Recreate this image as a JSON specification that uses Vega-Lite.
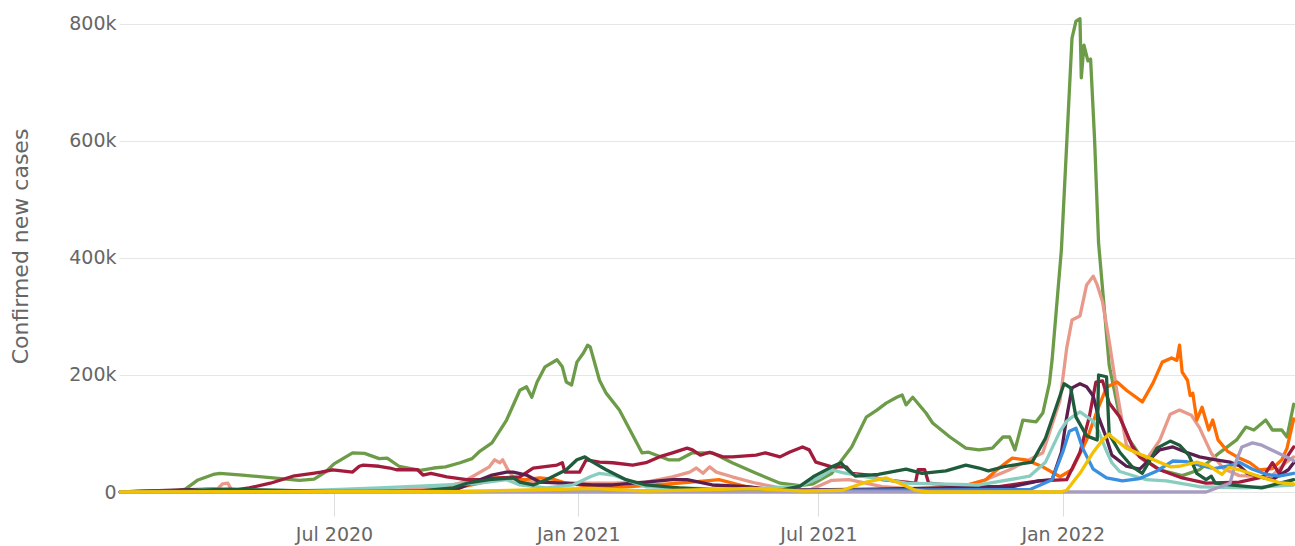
{
"$schema": "https://vega.github.io/schema/vega-lite/v6.json",
"width": 1176, "height": 492,
"autosize": {"type": "none"},
"padding": {"left": 119, "top": 0, "right": 0, "bottom": 54},
"background": "white",
"config": {"view": {"stroke": null}, "font": "DejaVu Sans"},
"data": {"values": [
{"c":"United States","d":"2020-01-22","v":0},{"c":"United States","d":"2020-03-01","v":0},{"c":"United States","d":"2020-03-11","v":5000},{"c":"United States","d":"2020-03-20","v":20000},{"c":"United States","d":"2020-04-01","v":30000},{"c":"United States","d":"2020-04-06","v":32000},{"c":"United States","d":"2020-04-23","v":29000},{"c":"United States","d":"2020-05-16","v":24000},{"c":"United States","d":"2020-06-05","v":20000},{"c":"United States","d":"2020-06-16","v":22000},{"c":"United States","d":"2020-06-25","v":35000},{"c":"United States","d":"2020-07-01","v":48000},{"c":"United States","d":"2020-07-15","v":67000},{"c":"United States","d":"2020-07-24","v":66000},{"c":"United States","d":"2020-08-04","v":57000},{"c":"United States","d":"2020-08-10","v":58000},{"c":"United States","d":"2020-08-19","v":44000},{"c":"United States","d":"2020-09-04","v":37000},{"c":"United States","d":"2020-09-14","v":41000},{"c":"United States","d":"2020-09-23","v":43000},{"c":"United States","d":"2020-10-04","v":50000},{"c":"United States","d":"2020-10-13","v":57000},{"c":"United States","d":"2020-10-19","v":70000},{"c":"United States","d":"2020-10-28","v":84000},{"c":"United States","d":"2020-11-08","v":123000},{"c":"United States","d":"2020-11-18","v":174000},{"c":"United States","d":"2020-11-23","v":180000},{"c":"United States","d":"2020-11-27","v":162000},{"c":"United States","d":"2020-12-01","v":188000},{"c":"United States","d":"2020-12-07","v":214000},{"c":"United States","d":"2020-12-16","v":226000},{"c":"United States","d":"2020-12-20","v":214000},{"c":"United States","d":"2020-12-23","v":188000},{"c":"United States","d":"2020-12-27","v":183000},{"c":"United States","d":"2020-12-31","v":222000},{"c":"United States","d":"2021-01-05","v":238000},{"c":"United States","d":"2021-01-08","v":251000},{"c":"United States","d":"2021-01-10","v":248000},{"c":"United States","d":"2021-01-17","v":191000},{"c":"United States","d":"2021-01-22","v":169000},{"c":"United States","d":"2021-02-01","v":140000},{"c":"United States","d":"2021-02-18","v":67000},{"c":"United States","d":"2021-02-23","v":68000},{"c":"United States","d":"2021-03-10","v":55000},{"c":"United States","d":"2021-03-18","v":55000},{"c":"United States","d":"2021-03-28","v":67000},{"c":"United States","d":"2021-04-12","v":67000},{"c":"United States","d":"2021-04-27","v":50000},{"c":"United States","d":"2021-05-15","v":32000},{"c":"United States","d":"2021-06-02","v":15000},{"c":"United States","d":"2021-06-17","v":11000},{"c":"United States","d":"2021-06-27","v":14000},{"c":"United States","d":"2021-07-11","v":32000},{"c":"United States","d":"2021-07-26","v":77000},{"c":"United States","d":"2021-08-06","v":128000},{"c":"United States","d":"2021-08-14","v":140000},{"c":"United States","d":"2021-08-21","v":152000},{"c":"United States","d":"2021-08-29","v":162000},{"c":"United States","d":"2021-09-02","v":166000},{"c":"United States","d":"2021-09-05","v":149000},{"c":"United States","d":"2021-09-10","v":162000},{"c":"United States","d":"2021-09-20","v":135000},{"c":"United States","d":"2021-09-25","v":118000},{"c":"United States","d":"2021-10-08","v":94000},{"c":"United States","d":"2021-10-20","v":75000},{"c":"United States","d":"2021-10-30","v":72000},{"c":"United States","d":"2021-11-09","v":75000},{"c":"United States","d":"2021-11-17","v":94000},{"c":"United States","d":"2021-11-22","v":94000},{"c":"United States","d":"2021-11-26","v":72000},{"c":"United States","d":"2021-12-02","v":123000},{"c":"United States","d":"2021-12-12","v":120000},{"c":"United States","d":"2021-12-17","v":135000},{"c":"United States","d":"2021-12-22","v":186000},{"c":"United States","d":"2021-12-24","v":226000},{"c":"United States","d":"2021-12-31","v":414000},{"c":"United States","d":"2022-01-08","v":776000},{"c":"United States","d":"2022-01-11","v":805000},{"c":"United States","d":"2022-01-14","v":809000},{"c":"United States","d":"2022-01-15","v":708000},{"c":"United States","d":"2022-01-17","v":764000},{"c":"United States","d":"2022-01-20","v":737000},{"c":"United States","d":"2022-01-22","v":740000},{"c":"United States","d":"2022-01-25","v":603000},{"c":"United States","d":"2022-01-28","v":426000},{"c":"United States","d":"2022-02-05","v":217000},{"c":"United States","d":"2022-02-13","v":128000},{"c":"United States","d":"2022-02-20","v":90000},{"c":"United States","d":"2022-03-01","v":60000},{"c":"United States","d":"2022-03-15","v":38000},{"c":"United States","d":"2022-04-01","v":28000},{"c":"United States","d":"2022-04-14","v":38000},{"c":"United States","d":"2022-04-29","v":67000},{"c":"United States","d":"2022-05-12","v":89000},{"c":"United States","d":"2022-05-19","v":111000},{"c":"United States","d":"2022-05-25","v":106000},{"c":"United States","d":"2022-06-03","v":123000},{"c":"United States","d":"2022-06-08","v":106000},{"c":"United States","d":"2022-06-15","v":106000},{"c":"United States","d":"2022-06-19","v":94000},{"c":"United States","d":"2022-06-24","v":150000},
{"c":"France","d":"2020-01-22","v":0},{"c":"France","d":"2020-04-02","v":0},{"c":"France","d":"2020-04-08","v":14000},{"c":"France","d":"2020-04-12","v":15000},{"c":"France","d":"2020-04-15","v":3000},{"c":"France","d":"2020-05-07","v":1000},{"c":"France","d":"2020-08-19","v":3000},{"c":"France","d":"2020-09-19","v":8000},{"c":"France","d":"2020-10-04","v":15000},{"c":"France","d":"2020-10-13","v":26000},{"c":"France","d":"2020-10-26","v":43000},{"c":"France","d":"2020-10-30","v":55000},{"c":"France","d":"2020-11-03","v":50000},{"c":"France","d":"2020-11-05","v":55000},{"c":"France","d":"2020-11-09","v":38000},{"c":"France","d":"2020-11-13","v":26000},{"c":"France","d":"2020-11-23","v":17000},{"c":"France","d":"2020-12-08","v":17000},{"c":"France","d":"2021-01-02","v":15000},{"c":"France","d":"2021-01-27","v":15000},{"c":"France","d":"2021-02-21","v":17000},{"c":"France","d":"2021-03-13","v":26000},{"c":"France","d":"2021-03-26","v":34000},{"c":"France","d":"2021-03-31","v":41000},{"c":"France","d":"2021-04-05","v":32000},{"c":"France","d":"2021-04-10","v":43000},{"c":"France","d":"2021-04-15","v":34000},{"c":"France","d":"2021-04-27","v":26000},{"c":"France","d":"2021-05-15","v":15000},{"c":"France","d":"2021-06-02","v":7000},{"c":"France","d":"2021-06-24","v":3000},{"c":"France","d":"2021-07-11","v":20000},{"c":"France","d":"2021-07-24","v":21000},{"c":"France","d":"2021-08-18","v":9000},{"c":"France","d":"2021-09-14","v":5000},{"c":"France","d":"2021-10-15","v":8000},{"c":"France","d":"2021-11-03","v":20000},{"c":"France","d":"2021-11-22","v":38000},{"c":"France","d":"2021-12-17","v":67000},{"c":"France","d":"2021-12-30","v":157000},{"c":"France","d":"2022-01-04","v":246000},{"c":"France","d":"2022-01-08","v":294000},{"c":"France","d":"2022-01-14","v":301000},{"c":"France","d":"2022-01-19","v":354000},{"c":"France","d":"2022-01-24","v":369000},{"c":"France","d":"2022-01-27","v":354000},{"c":"France","d":"2022-01-31","v":325000},{"c":"France","d":"2022-02-05","v":258000},{"c":"France","d":"2022-02-11","v":169000},{"c":"France","d":"2022-02-18","v":80000},{"c":"France","d":"2022-03-04","v":52000},{"c":"France","d":"2022-03-15","v":88000},{"c":"France","d":"2022-03-23","v":133000},{"c":"France","d":"2022-03-30","v":140000},{"c":"France","d":"2022-04-08","v":131000},{"c":"France","d":"2022-04-14","v":110000},{"c":"France","d":"2022-04-23","v":66000},{"c":"France","d":"2022-05-02","v":40000},{"c":"France","d":"2022-05-14","v":28000},{"c":"France","d":"2022-06-07","v":26000},{"c":"France","d":"2022-06-18","v":50000},{"c":"France","d":"2022-06-24","v":60000},
{"c":"Germany","d":"2020-01-22","v":0},{"c":"Germany","d":"2020-03-15","v":3000},{"c":"Germany","d":"2020-04-01","v":5000},{"c":"Germany","d":"2020-04-23","v":3000},{"c":"Germany","d":"2020-05-14","v":1000},{"c":"Germany","d":"2020-09-12","v":2000},{"c":"Germany","d":"2020-10-06","v":9000},{"c":"Germany","d":"2020-10-19","v":15000},{"c":"Germany","d":"2020-10-26","v":24000},{"c":"Germany","d":"2020-11-08","v":24000},{"c":"Germany","d":"2020-11-21","v":21000},{"c":"Germany","d":"2020-12-03","v":24000},{"c":"Germany","d":"2020-12-13","v":22000},{"c":"Germany","d":"2020-12-23","v":15000},{"c":"Germany","d":"2021-01-02","v":12000},{"c":"Germany","d":"2021-02-01","v":8000},{"c":"Germany","d":"2021-03-18","v":15000},{"c":"Germany","d":"2021-04-07","v":19000},{"c":"Germany","d":"2021-04-17","v":21000},{"c":"Germany","d":"2021-05-08","v":9000},{"c":"Germany","d":"2021-06-02","v":2000},{"c":"Germany","d":"2021-08-31","v":5000},{"c":"Germany","d":"2021-10-15","v":8000},{"c":"Germany","d":"2021-11-04","v":21000},{"c":"Germany","d":"2021-11-14","v":41000},{"c":"Germany","d":"2021-11-24","v":58000},{"c":"Germany","d":"2021-12-04","v":55000},{"c":"Germany","d":"2021-12-17","v":43000},{"c":"Germany","d":"2021-12-30","v":26000},{"c":"Germany","d":"2022-01-08","v":38000},{"c":"Germany","d":"2022-01-19","v":89000},{"c":"Germany","d":"2022-01-28","v":145000},{"c":"Germany","d":"2022-02-03","v":179000},{"c":"Germany","d":"2022-02-11","v":188000},{"c":"Germany","d":"2022-02-18","v":174000},{"c":"Germany","d":"2022-03-02","v":154000},{"c":"Germany","d":"2022-03-10","v":186000},{"c":"Germany","d":"2022-03-17","v":222000},{"c":"Germany","d":"2022-03-24","v":229000},{"c":"Germany","d":"2022-03-28","v":225000},{"c":"Germany","d":"2022-03-30","v":251000},{"c":"Germany","d":"2022-04-01","v":205000},{"c":"Germany","d":"2022-04-05","v":191000},{"c":"Germany","d":"2022-04-07","v":165000},{"c":"Germany","d":"2022-04-09","v":169000},{"c":"Germany","d":"2022-04-12","v":123000},{"c":"Germany","d":"2022-04-16","v":145000},{"c":"Germany","d":"2022-04-21","v":106000},{"c":"Germany","d":"2022-04-24","v":123000},{"c":"Germany","d":"2022-04-28","v":89000},{"c":"Germany","d":"2022-05-05","v":70000},{"c":"Germany","d":"2022-05-14","v":58000},{"c":"Germany","d":"2022-05-22","v":50000},{"c":"Germany","d":"2022-05-29","v":38000},{"c":"Germany","d":"2022-06-08","v":40000},{"c":"Germany","d":"2022-06-15","v":55000},{"c":"Germany","d":"2022-06-19","v":75000},{"c":"Germany","d":"2022-06-24","v":125000},
{"c":"Brazil","d":"2020-01-22","v":0},{"c":"Brazil","d":"2020-04-13","v":2000},{"c":"Brazil","d":"2020-04-28","v":7000},{"c":"Brazil","d":"2020-05-14","v":15000},{"c":"Brazil","d":"2020-05-31","v":27000},{"c":"Brazil","d":"2020-06-15","v":32000},{"c":"Brazil","d":"2020-06-21","v":34000},{"c":"Brazil","d":"2020-06-30","v":38000},{"c":"Brazil","d":"2020-07-15","v":34000},{"c":"Brazil","d":"2020-07-20","v":44000},{"c":"Brazil","d":"2020-07-23","v":46000},{"c":"Brazil","d":"2020-08-04","v":44000},{"c":"Brazil","d":"2020-08-12","v":41000},{"c":"Brazil","d":"2020-08-17","v":38000},{"c":"Brazil","d":"2020-09-02","v":38000},{"c":"Brazil","d":"2020-09-06","v":29000},{"c":"Brazil","d":"2020-09-12","v":32000},{"c":"Brazil","d":"2020-09-24","v":26000},{"c":"Brazil","d":"2020-10-09","v":21000},{"c":"Brazil","d":"2020-10-19","v":21000},{"c":"Brazil","d":"2020-11-03","v":24000},{"c":"Brazil","d":"2020-11-18","v":26000},{"c":"Brazil","d":"2020-11-28","v":41000},{"c":"Brazil","d":"2020-12-16","v":46000},{"c":"Brazil","d":"2020-12-20","v":50000},{"c":"Brazil","d":"2020-12-22","v":34000},{"c":"Brazil","d":"2021-01-02","v":34000},{"c":"Brazil","d":"2021-01-07","v":55000},{"c":"Brazil","d":"2021-01-17","v":51000},{"c":"Brazil","d":"2021-01-27","v":50000},{"c":"Brazil","d":"2021-02-11","v":46000},{"c":"Brazil","d":"2021-02-21","v":50000},{"c":"Brazil","d":"2021-03-03","v":60000},{"c":"Brazil","d":"2021-03-13","v":67000},{"c":"Brazil","d":"2021-03-24","v":75000},{"c":"Brazil","d":"2021-03-28","v":72000},{"c":"Brazil","d":"2021-04-03","v":63000},{"c":"Brazil","d":"2021-04-10","v":68000},{"c":"Brazil","d":"2021-04-20","v":60000},{"c":"Brazil","d":"2021-04-27","v":60000},{"c":"Brazil","d":"2021-05-15","v":63000},{"c":"Brazil","d":"2021-05-22","v":67000},{"c":"Brazil","d":"2021-06-02","v":60000},{"c":"Brazil","d":"2021-06-09","v":68000},{"c":"Brazil","d":"2021-06-19","v":77000},{"c":"Brazil","d":"2021-06-24","v":72000},{"c":"Brazil","d":"2021-06-29","v":51000},{"c":"Brazil","d":"2021-07-11","v":43000},{"c":"Brazil","d":"2021-07-22","v":43000},{"c":"Brazil","d":"2021-07-26","v":32000},{"c":"Brazil","d":"2021-08-08","v":29000},{"c":"Brazil","d":"2021-08-18","v":21000},{"c":"Brazil","d":"2021-09-12","v":15000},{"c":"Brazil","d":"2021-09-14","v":38000},{"c":"Brazil","d":"2021-09-19","v":38000},{"c":"Brazil","d":"2021-09-22","v":15000},{"c":"Brazil","d":"2021-10-20","v":9000},{"c":"Brazil","d":"2021-11-14","v":9000},{"c":"Brazil","d":"2021-12-14","v":19000},{"c":"Brazil","d":"2022-01-04","v":21000},{"c":"Brazil","d":"2022-01-14","v":68000},{"c":"Brazil","d":"2022-01-21","v":128000},{"c":"Brazil","d":"2022-01-26","v":188000},{"c":"Brazil","d":"2022-01-31","v":190000},{"c":"Brazil","d":"2022-02-05","v":152000},{"c":"Brazil","d":"2022-02-13","v":128000},{"c":"Brazil","d":"2022-02-22","v":80000},{"c":"Brazil","d":"2022-02-28","v":60000},{"c":"Brazil","d":"2022-03-15","v":38000},{"c":"Brazil","d":"2022-04-01","v":24000},{"c":"Brazil","d":"2022-04-19","v":15000},{"c":"Brazil","d":"2022-05-14","v":17000},{"c":"Brazil","d":"2022-06-01","v":26000},{"c":"Brazil","d":"2022-06-08","v":50000},{"c":"Brazil","d":"2022-06-13","v":32000},{"c":"Brazil","d":"2022-06-19","v":60000},{"c":"Brazil","d":"2022-06-24","v":77000},
{"c":"Italy","d":"2020-01-22","v":0},{"c":"Italy","d":"2020-03-14","v":4000},{"c":"Italy","d":"2020-04-01","v":5000},{"c":"Italy","d":"2020-05-07","v":1000},{"c":"Italy","d":"2020-09-19","v":2000},{"c":"Italy","d":"2020-10-02","v":5000},{"c":"Italy","d":"2020-10-19","v":21000},{"c":"Italy","d":"2020-10-28","v":29000},{"c":"Italy","d":"2020-11-08","v":34000},{"c":"Italy","d":"2020-11-13","v":34000},{"c":"Italy","d":"2020-11-23","v":29000},{"c":"Italy","d":"2020-12-03","v":17000},{"c":"Italy","d":"2020-12-20","v":15000},{"c":"Italy","d":"2021-01-12","v":12000},{"c":"Italy","d":"2021-01-27","v":12000},{"c":"Italy","d":"2021-02-21","v":17000},{"c":"Italy","d":"2021-03-13","v":21000},{"c":"Italy","d":"2021-03-24","v":21000},{"c":"Italy","d":"2021-04-12","v":12000},{"c":"Italy","d":"2021-05-08","v":9000},{"c":"Italy","d":"2021-06-02","v":3000},{"c":"Italy","d":"2021-08-15","v":5000},{"c":"Italy","d":"2021-11-24","v":9000},{"c":"Italy","d":"2021-12-14","v":19000},{"c":"Italy","d":"2021-12-24","v":21000},{"c":"Italy","d":"2021-12-31","v":68000},{"c":"Italy","d":"2022-01-04","v":128000},{"c":"Italy","d":"2022-01-08","v":178000},{"c":"Italy","d":"2022-01-14","v":185000},{"c":"Italy","d":"2022-01-19","v":180000},{"c":"Italy","d":"2022-01-24","v":164000},{"c":"Italy","d":"2022-01-28","v":128000},{"c":"Italy","d":"2022-02-03","v":92000},{"c":"Italy","d":"2022-02-07","v":63000},{"c":"Italy","d":"2022-02-18","v":44000},{"c":"Italy","d":"2022-02-28","v":39000},{"c":"Italy","d":"2022-03-15","v":72000},{"c":"Italy","d":"2022-03-25","v":77000},{"c":"Italy","d":"2022-04-04","v":68000},{"c":"Italy","d":"2022-04-14","v":60000},{"c":"Italy","d":"2022-04-23","v":56000},{"c":"Italy","d":"2022-05-07","v":51000},{"c":"Italy","d":"2022-05-14","v":45000},{"c":"Italy","d":"2022-05-20","v":32000},{"c":"Italy","d":"2022-05-29","v":26000},{"c":"Italy","d":"2022-06-08","v":21000},{"c":"Italy","d":"2022-06-20","v":38000},{"c":"Italy","d":"2022-06-24","v":50000},
{"c":"Spain","d":"2020-01-22","v":0},{"c":"Spain","d":"2020-03-14","v":2000},{"c":"Spain","d":"2020-03-30","v":5000},{"c":"Spain","d":"2020-04-23","v":4000},{"c":"Spain","d":"2020-06-05","v":2000},{"c":"Spain","d":"2020-08-04","v":7000},{"c":"Spain","d":"2020-09-24","v":12000},{"c":"Spain","d":"2020-10-19","v":15000},{"c":"Spain","d":"2020-11-08","v":21000},{"c":"Spain","d":"2020-11-18","v":12000},{"c":"Spain","d":"2020-12-08","v":7000},{"c":"Spain","d":"2020-12-28","v":12000},{"c":"Spain","d":"2021-01-10","v":26000},{"c":"Spain","d":"2021-01-17","v":32000},{"c":"Spain","d":"2021-01-27","v":29000},{"c":"Spain","d":"2021-02-06","v":21000},{"c":"Spain","d":"2021-02-21","v":9000},{"c":"Spain","d":"2021-03-18","v":7000},{"c":"Spain","d":"2021-05-03","v":4000},{"c":"Spain","d":"2021-06-17","v":10000},{"c":"Spain","d":"2021-07-02","v":25000},{"c":"Spain","d":"2021-07-11","v":38000},{"c":"Spain","d":"2021-07-19","v":33000},{"c":"Spain","d":"2021-08-06","v":26000},{"c":"Spain","d":"2021-08-21","v":21000},{"c":"Spain","d":"2021-09-05","v":15000},{"c":"Spain","d":"2021-10-30","v":12000},{"c":"Spain","d":"2021-12-07","v":27000},{"c":"Spain","d":"2021-12-19","v":51000},{"c":"Spain","d":"2021-12-30","v":104000},{"c":"Spain","d":"2022-01-04","v":121000},{"c":"Spain","d":"2022-01-08","v":128000},{"c":"Spain","d":"2022-01-14","v":137000},{"c":"Spain","d":"2022-01-24","v":121000},{"c":"Spain","d":"2022-01-28","v":104000},{"c":"Spain","d":"2022-02-03","v":70000},{"c":"Spain","d":"2022-02-07","v":50000},{"c":"Spain","d":"2022-02-13","v":35000},{"c":"Spain","d":"2022-03-05","v":21000},{"c":"Spain","d":"2022-03-20","v":19000},{"c":"Spain","d":"2022-03-30","v":15000},{"c":"Spain","d":"2022-04-14","v":9000},{"c":"Spain","d":"2022-05-19","v":7000},{"c":"Spain","d":"2022-06-24","v":12000},
{"c":"Australia","d":"2020-01-22","v":0},{"c":"Australia","d":"2020-11-03","v":1000},{"c":"Australia","d":"2021-04-03","v":2000},{"c":"Australia","d":"2021-08-15","v":3000},{"c":"Australia","d":"2021-12-07","v":4000},{"c":"Australia","d":"2021-12-24","v":21000},{"c":"Australia","d":"2022-01-01","v":68000},{"c":"Australia","d":"2022-01-06","v":104000},{"c":"Australia","d":"2022-01-11","v":109000},{"c":"Australia","d":"2022-01-16","v":75000},{"c":"Australia","d":"2022-01-24","v":39000},{"c":"Australia","d":"2022-02-03","v":24000},{"c":"Australia","d":"2022-02-15","v":19000},{"c":"Australia","d":"2022-02-28","v":23000},{"c":"Australia","d":"2022-03-13","v":36000},{"c":"Australia","d":"2022-03-25","v":53000},{"c":"Australia","d":"2022-04-04","v":52000},{"c":"Australia","d":"2022-04-14","v":46000},{"c":"Australia","d":"2022-04-25","v":40000},{"c":"Australia","d":"2022-05-07","v":45000},{"c":"Australia","d":"2022-05-14","v":51000},{"c":"Australia","d":"2022-05-24","v":39000},{"c":"Australia","d":"2022-06-04","v":30000},{"c":"Australia","d":"2022-06-13","v":27000},{"c":"Australia","d":"2022-06-24","v":32000},
{"c":"United Kingdom","d":"2020-01-22","v":0},{"c":"United Kingdom","d":"2020-03-22","v":3000},{"c":"United Kingdom","d":"2020-04-13","v":5000},{"c":"United Kingdom","d":"2020-05-14","v":3000},{"c":"United Kingdom","d":"2020-06-28","v":1000},{"c":"United Kingdom","d":"2020-09-04","v":2000},{"c":"United Kingdom","d":"2020-09-29","v":7000},{"c":"United Kingdom","d":"2020-10-09","v":15000},{"c":"United Kingdom","d":"2020-10-26","v":21000},{"c":"United Kingdom","d":"2020-11-13","v":24000},{"c":"United Kingdom","d":"2020-11-18","v":17000},{"c":"United Kingdom","d":"2020-11-28","v":12000},{"c":"United Kingdom","d":"2020-12-08","v":21000},{"c":"United Kingdom","d":"2020-12-23","v":38000},{"c":"United Kingdom","d":"2020-12-31","v":55000},{"c":"United Kingdom","d":"2021-01-06","v":60000},{"c":"United Kingdom","d":"2021-01-12","v":51000},{"c":"United Kingdom","d":"2021-01-22","v":38000},{"c":"United Kingdom","d":"2021-02-06","v":21000},{"c":"United Kingdom","d":"2021-02-21","v":12000},{"c":"United Kingdom","d":"2021-03-18","v":7000},{"c":"United Kingdom","d":"2021-04-17","v":3000},{"c":"United Kingdom","d":"2021-06-02","v":3000},{"c":"United Kingdom","d":"2021-06-17","v":10000},{"c":"United Kingdom","d":"2021-06-27","v":26000},{"c":"United Kingdom","d":"2021-07-11","v":43000},{"c":"United Kingdom","d":"2021-07-18","v":50000},{"c":"United Kingdom","d":"2021-07-22","v":40000},{"c":"United Kingdom","d":"2021-07-29","v":27000},{"c":"United Kingdom","d":"2021-08-15","v":30000},{"c":"United Kingdom","d":"2021-09-05","v":39000},{"c":"United Kingdom","d":"2021-09-17","v":32000},{"c":"United Kingdom","d":"2021-10-05","v":36000},{"c":"United Kingdom","d":"2021-10-20","v":46000},{"c":"United Kingdom","d":"2021-10-30","v":41000},{"c":"United Kingdom","d":"2021-11-06","v":36000},{"c":"United Kingdom","d":"2021-11-19","v":44000},{"c":"United Kingdom","d":"2021-12-09","v":51000},{"c":"United Kingdom","d":"2021-12-19","v":92000},{"c":"United Kingdom","d":"2021-12-27","v":145000},{"c":"United Kingdom","d":"2022-01-02","v":185000},{"c":"United Kingdom","d":"2022-01-07","v":178000},{"c":"United Kingdom","d":"2022-01-11","v":128000},{"c":"United Kingdom","d":"2022-01-19","v":96000},{"c":"United Kingdom","d":"2022-01-27","v":89000},{"c":"United Kingdom","d":"2022-01-28","v":200000},{"c":"United Kingdom","d":"2022-02-03","v":197000},{"c":"United Kingdom","d":"2022-02-05","v":99000},{"c":"United Kingdom","d":"2022-02-13","v":68000},{"c":"United Kingdom","d":"2022-02-22","v":44000},{"c":"United Kingdom","d":"2022-03-02","v":32000},{"c":"United Kingdom","d":"2022-03-13","v":75000},{"c":"United Kingdom","d":"2022-03-23","v":87000},{"c":"United Kingdom","d":"2022-03-30","v":80000},{"c":"United Kingdom","d":"2022-04-06","v":63000},{"c":"United Kingdom","d":"2022-04-12","v":32000},{"c":"United Kingdom","d":"2022-04-19","v":21000},{"c":"United Kingdom","d":"2022-04-23","v":27000},{"c":"United Kingdom","d":"2022-04-26","v":15000},{"c":"United Kingdom","d":"2022-05-07","v":12000},{"c":"United Kingdom","d":"2022-05-31","v":7000},{"c":"United Kingdom","d":"2022-06-24","v":21000},
{"c":"Taiwan","d":"2020-01-22","v":0},{"c":"Taiwan","d":"2022-04-19","v":0},{"c":"Taiwan","d":"2022-04-25","v":5000},{"c":"Taiwan","d":"2022-05-07","v":15000},{"c":"Taiwan","d":"2022-05-12","v":55000},{"c":"Taiwan","d":"2022-05-16","v":77000},{"c":"Taiwan","d":"2022-05-24","v":84000},{"c":"Taiwan","d":"2022-05-31","v":80000},{"c":"Taiwan","d":"2022-06-11","v":68000},{"c":"Taiwan","d":"2022-06-23","v":55000},{"c":"Taiwan","d":"2022-06-24","v":53000},
{"c":"Japan","d":"2020-01-22","v":0},{"c":"Japan","d":"2020-08-07","v":1300},{"c":"Japan","d":"2020-10-01","v":500},{"c":"Japan","d":"2021-01-12","v":6000},{"c":"Japan","d":"2021-02-20","v":1500},{"c":"Japan","d":"2021-05-12","v":6000},{"c":"Japan","d":"2021-06-20","v":1500},{"c":"Japan","d":"2021-07-19","v":3000},{"c":"Japan","d":"2021-08-06","v":17000},{"c":"Japan","d":"2021-08-21","v":24000},{"c":"Japan","d":"2021-08-31","v":15000},{"c":"Japan","d":"2021-09-12","v":3000},{"c":"Japan","d":"2021-09-22","v":0},{"c":"Japan","d":"2021-12-30","v":0},{"c":"Japan","d":"2022-01-04","v":3000},{"c":"Japan","d":"2022-01-14","v":32000},{"c":"Japan","d":"2022-01-24","v":68000},{"c":"Japan","d":"2022-01-31","v":89000},{"c":"Japan","d":"2022-02-05","v":99000},{"c":"Japan","d":"2022-02-07","v":94000},{"c":"Japan","d":"2022-02-18","v":75000},{"c":"Japan","d":"2022-03-02","v":63000},{"c":"Japan","d":"2022-03-15","v":51000},{"c":"Japan","d":"2022-03-23","v":43000},{"c":"Japan","d":"2022-03-30","v":44000},{"c":"Japan","d":"2022-04-12","v":51000},{"c":"Japan","d":"2022-04-21","v":45000},{"c":"Japan","d":"2022-05-01","v":30000},{"c":"Japan","d":"2022-05-06","v":42000},{"c":"Japan","d":"2022-05-14","v":38000},{"c":"Japan","d":"2022-05-27","v":28000},{"c":"Japan","d":"2022-06-13","v":16000},{"c":"Japan","d":"2022-06-24","v":14000}
]},
"mark": {"type": "line", "strokeWidth": 3.3, "strokeJoin": "round", "strokeCap": "round"},
"encoding": {
"x": {"field": "d", "type": "temporal",
 "scale": {"type": "utc", "domain": [{"year": 2020, "month": 1, "date": 21, "utc": true}, {"year": 2022, "month": 6, "date": 25, "utc": true}]},
 "axis": {"title": null, "values": [{"year": 2020, "month": 7, "date": 1, "utc": true}, {"year": 2021, "month": 1, "date": 1, "utc": true}, {"year": 2021, "month": 7, "date": 1, "utc": true}, {"year": 2022, "month": 1, "date": 1, "utc": true}],
  "labelExpr": "utcFormat(datum.value, '%b %Y')", "grid": false, "domain": false, "tickSize": 24, "tickColor": "#dddddd", "labelFontSize": 19, "labelColor": "#666666", "labelPadding": 9, "labelFont": "DejaVu Sans"}},
"y": {"field": "v", "type": "quantitative", "scale": {"domain": [0, 841000], "nice": false},
 "axis": {"title": "Confirmed new cases", "values": [0, 200000, 400000, 600000, 800000], "labelExpr": "datum.value == 0 ? '0' : format(datum.value / 1000, 'd') + 'k'", "domain": false, "ticks": false, "gridColor": "#e6e6e6", "labelFontSize": 19, "labelColor": "#666666", "labelPadding": 3, "labelFont": "DejaVu Sans", "titleFont": "DejaVu Sans", "titleFontSize": 22, "titleFontWeight": "normal", "titleColor": "#666666", "titlePadding": 36}},
"color": {"field": "c", "type": "nominal", "legend": null,
 "scale": {"domain": ["United States", "France", "Germany", "Brazil", "Italy", "Spain", "Australia", "United Kingdom", "Taiwan", "Japan"],
  "range": ["#6d9c48", "#e8998a", "#ff6c00", "#a31b3c", "#5b1f4f", "#88cdc0", "#3b8fe0", "#1f5c3b", "#a89cc0", "#f2c200"]}}
}
}
